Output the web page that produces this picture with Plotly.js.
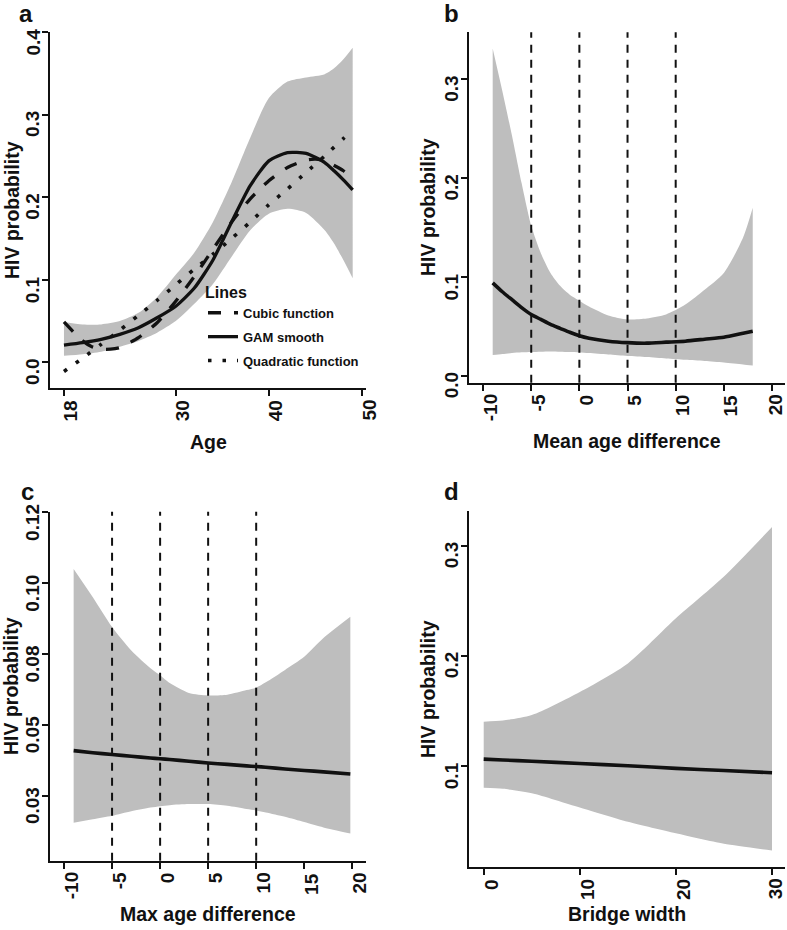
<!DOCTYPE html>
<html>
<head>
<meta charset="utf-8">
<script src="https://cdn.plot.ly/plotly-3.0.1.min.js"></script>
<style>html,body{margin:0;padding:0;background:#fff;}</style>
</head>
<body>
<div id="chart" style="width:787px;height:930px;"></div>
<script>
// ---------- Panel a: HIV probability by Age ----------
const ageX      = [18, 20, 22, 24, 26, 28, 30, 32, 34, 36, 38, 40, 42, 44, 46, 47, 48, 49];
const ageLower  = [0.008, 0.010, 0.013, 0.019, 0.026, 0.036, 0.050, 0.071, 0.095, 0.128, 0.160, 0.180, 0.186, 0.181, 0.160, 0.144, 0.124, 0.102];
const ageUpper  = [0.049, 0.046, 0.046, 0.050, 0.060, 0.079, 0.106, 0.133, 0.170, 0.218, 0.272, 0.320, 0.340, 0.345, 0.349, 0.356, 0.367, 0.381];
const ageGam    = [0.021, 0.024, 0.028, 0.034, 0.042, 0.054, 0.068, 0.090, 0.124, 0.170, 0.214, 0.244, 0.254, 0.253, 0.242, 0.232, 0.221, 0.209];
const cubicX    = [18, 19, 20, 21, 22, 23, 24, 26, 28, 30, 32, 34, 36, 38, 40, 42, 44, 45, 46, 48, 49];
const cubicY    = [0.049, 0.037, 0.026, 0.019, 0.016, 0.016, 0.018, 0.030, 0.048, 0.074, 0.104, 0.137, 0.170, 0.198, 0.220, 0.236, 0.245, 0.246, 0.244, 0.232, 0.222];
const quadX     = [18, 20, 22, 24, 26, 28, 30, 32, 34, 36, 38, 40, 42, 44, 46, 48, 49];
const quadY     = [-0.011, 0.005, 0.022, 0.039, 0.057, 0.075, 0.094, 0.113, 0.131, 0.150, 0.170, 0.191, 0.210, 0.230, 0.250, 0.271, 0.281];
const ageTicks  = [18, 30, 40, 50];
const probTicksA = [0.0, 0.1, 0.2, 0.3, 0.4];

// ---------- Panel b: Mean age difference ----------
const meanX     = [-9, -8, -7, -6, -5, -4, -3, -2, -1, 0, 1, 3, 5, 7, 9, 11, 13, 15, 17, 18];
const meanLower = [0.021, 0.022, 0.023, 0.0237, 0.024, 0.0243, 0.0245, 0.0243, 0.024, 0.0236, 0.023, 0.0215, 0.020, 0.019, 0.0175, 0.0162, 0.015, 0.0135, 0.0115, 0.0104];
const meanUpper = [0.331, 0.288, 0.243, 0.195, 0.152, 0.124, 0.104, 0.091, 0.082, 0.076, 0.070, 0.061, 0.057, 0.058, 0.062, 0.072, 0.087, 0.104, 0.140, 0.170];
const meanFit   = [0.094, 0.085, 0.077, 0.069, 0.062, 0.057, 0.052, 0.048, 0.044, 0.0405, 0.038, 0.035, 0.0335, 0.033, 0.034, 0.035, 0.037, 0.039, 0.043, 0.045];
const diffTicks = [-10, -5, 0, 5, 10, 15, 20];
const cutPoints = [-5, 0, 5, 10];
const probTicksB = [0.0, 0.1, 0.2, 0.3];

// ---------- Panel c: Max age difference (axis positions, labelled as printed) ----------
const maxX      = [-9, -7, -5, -3, -1, 0, 1, 3, 5, 7, 9, 10, 11, 13, 15, 17, 19.8];
const maxLower  = [0.0323, 0.0333, 0.0343, 0.0356, 0.0366, 0.0370, 0.0373, 0.0376, 0.0376, 0.0371, 0.0362, 0.0358, 0.0352, 0.0340, 0.0325, 0.0310, 0.0293];
const maxUpper  = [0.104, 0.096, 0.0876, 0.081, 0.076, 0.074, 0.0718, 0.069, 0.0683, 0.0685, 0.0698, 0.0705, 0.072, 0.0755, 0.0792, 0.0845, 0.0905];
const maxFit    = [0.0527, 0.0521, 0.0516, 0.0511, 0.0506, 0.0504, 0.0502, 0.0497, 0.0492, 0.0488, 0.0484, 0.0482, 0.0480, 0.0475, 0.0471, 0.0467, 0.0461];
const probTickPosC  = [0.04, 0.06, 0.08, 0.10, 0.12];
const probTickTextC = ['0.03', '0.05', '0.08', '0.10', '0.12'];

// ---------- Panel d: Bridge width ----------
const bridgeX     = [0, 2, 5, 10, 15, 20, 25, 30];
const bridgeLower = [0.080, 0.079, 0.075, 0.062, 0.049, 0.0385, 0.029, 0.023];
const bridgeUpper = [0.140, 0.141, 0.146, 0.167, 0.193, 0.234, 0.272, 0.317];
const bridgeFit   = [0.106, 0.1052, 0.104, 0.102, 0.100, 0.0976, 0.0956, 0.0936];
const bridgeTicks = [0, 10, 20, 30];
const probTicksD  = [0.1, 0.2, 0.3];

// ---------- styling ----------
const W = 787, H = 930;
const FONT = 'Liberation Sans, Arial, Helvetica, sans-serif';
const INK = '#111111';
const BAND = '#bebebe';

function band(x, lo, hi, xa, ya) {
  return [
    {x: x, y: lo, xaxis: xa, yaxis: ya, type: 'scatter', mode: 'lines',
     line: {width: 0, color: BAND, shape: 'spline', smoothing: 0.7}, showlegend: false, hoverinfo: 'skip'},
    {x: x, y: hi, xaxis: xa, yaxis: ya, type: 'scatter', mode: 'lines',
     line: {width: 0, color: BAND, shape: 'spline', smoothing: 0.7}, fill: 'tonexty', fillcolor: BAND,
     showlegend: false, hoverinfo: 'skip'}
  ];
}
function fit(x, y, xa, ya) {
  return {x: x, y: y, xaxis: xa, yaxis: ya, type: 'scatter', mode: 'lines',
          line: {color: INK, width: 3.6, shape: 'spline', smoothing: 0.6},
          showlegend: false, hoverinfo: 'skip'};
}

const data = [].concat(
  band(ageX, ageLower, ageUpper, 'x', 'y'),
  [
    {x: cubicX, y: cubicY, name: 'Cubic function', legendgroup: 'g1', type: 'scatter', mode: 'lines',
     line: {color: INK, width: 3.3, dash: '13px,13px', shape: 'spline', smoothing: 0.6}},
    {x: ageX, y: ageGam, name: 'GAM smooth', legendgroup: 'g2', type: 'scatter', mode: 'lines',
     line: {color: INK, width: 3.3, shape: 'spline', smoothing: 0.6}},
    {x: quadX, y: quadY, name: 'Quadratic function', legendgroup: 'g3', type: 'scatter', mode: 'lines',
     line: {color: INK, width: 3.6, dash: '3.5px,11px', shape: 'spline', smoothing: 0.6}}
  ],
  band(meanX, meanLower, meanUpper, 'x2', 'y2'),
  [fit(meanX, meanFit, 'x2', 'y2')],
  band(maxX, maxLower, maxUpper, 'x3', 'y3'),
  [fit(maxX, maxFit, 'x3', 'y3')],
  band(bridgeX, bridgeLower, bridgeUpper, 'x4', 'y4'),
  [fit(bridgeX, bridgeFit, 'x4', 'y4')]
);

const tickFont = {family: FONT, size: 19, color: INK, weight: 'bold'};
const titleFont = {family: FONT, size: 19.5, color: INK, weight: 'bold'};

function xAxis(domain, range, ticks, anchor) {
  return {domain: domain, range: range, anchor: anchor, tickmode: 'array', tickvals: ticks,
          ticks: 'outside', ticklen: 6, tickwidth: 2, tickcolor: INK, showticklabels: false,
          showline: true, linewidth: 2, linecolor: INK, mirror: false,
          showgrid: false, zeroline: false, automargin: false};
}
function yAxis(domain, range, ticks, anchor) {
  return {domain: domain, range: range, anchor: anchor, tickmode: 'array', tickvals: ticks,
          ticks: 'outside', ticklen: 6, tickwidth: 2, tickcolor: INK, showticklabels: false,
          showline: true, linewidth: 2, linecolor: INK, mirror: false,
          showgrid: false, zeroline: false, automargin: false};
}
const dxL = [50 / W, 366 / W], dxR = [469 / W, 785 / W];
function dy(top, bottom) { return [1 - bottom / H, 1 - top / H]; }

// rotated tick labels (reading bottom-to-top), placed from the tick arrays
function xTickLabels(k, vals, atRightEdge) {
  return vals.map(function (v, i) {
    const last = atRightEdge && i === vals.length - 1;
    return {text: String(v), xref: 'x' + k, x: v, xanchor: 'center', xshift: last ? 3 : 7,
            yref: 'y' + k + ' domain', y: 0, yanchor: 'top', yshift: -11,
            textangle: -90, showarrow: false, font: tickFont, borderpad: 0};
  });
}
function yTickLabels(k, vals, texts) {
  return vals.map(function (v, i) {
    return {text: texts ? texts[i] : v.toFixed(1), xref: 'x' + k + ' domain', x: 0, xanchor: 'center', xshift: -17.5,
            yref: 'y' + k, y: v, yanchor: 'middle', yshift: -10,
            textangle: -90, showarrow: false, font: tickFont, borderpad: 0};
  });
}

const shapes = [];
cutPoints.forEach(function (c) {
  ['2', '3'].forEach(function (k) {
    shapes.push({type: 'line', xref: 'x' + k, yref: 'y' + k + ' domain', x0: c, x1: c, y0: 0, y1: 1,
                 line: {color: INK, width: 2, dash: '8px,7px'}, layer: 'above'});
  });
});

function label(txt, px, pyMid) {
  return {text: txt, xref: 'paper', yref: 'paper', x: px / W, y: 1 - pyMid / H,
          xanchor: 'left', yanchor: 'middle', showarrow: false,
          font: {family: FONT, size: 24, color: INK, weight: 'bold'}};
}
function xTitle(txt, pxMid, pyMid) {
  return {text: txt, xref: 'paper', yref: 'paper', x: pxMid / W, y: 1 - pyMid / H,
          xanchor: 'center', yanchor: 'middle', showarrow: false, font: titleFont};
}
function yTitle(txt, pxMid, pyMid) {
  return {text: txt, xref: 'paper', yref: 'paper', x: pxMid / W, y: 1 - pyMid / H, textangle: -90,
          xanchor: 'center', yanchor: 'middle', showarrow: false, font: titleFont};
}

const annotations = [].concat(
  [
    label('a', 17, 14), label('b', 442, 14), label('c', 19, 491), label('d', 442, 491),
    xTitle('Age', 208, 442), xTitle('Mean age difference', 627, 441),
    xTitle('Max age difference', 208, 914), xTitle('Bridge width', 627, 914),
    yTitle('HIV probability', 12, 210), yTitle('HIV probability', 428, 207),
    yTitle('HIV probability', 11, 686), yTitle('HIV probability', 428, 689)
  ],
  xTickLabels('', ageTicks, false), yTickLabels('', probTicksA),
  xTickLabels('2', diffTicks, true), yTickLabels('2', probTicksB),
  xTickLabels('3', diffTicks, false), yTickLabels('3', probTickPosC, probTickTextC),
  xTickLabels('4', bridgeTicks, true), yTickLabels('4', probTicksD)
);

const layout = {
  width: W, height: H,
  margin: {l: 0, r: 0, t: 0, b: 0, autoexpand: false},
  paper_bgcolor: '#ffffff', plot_bgcolor: 'rgba(0,0,0,0)',
  font: {family: FONT, color: INK, weight: 'bold'},
  xaxis:  xAxis(dxL, [16.5, 50.43], ageTicks, 'y'),
  yaxis:  yAxis(dy(32, 388), [-0.031, 0.40], probTicksA, 'x'),
  xaxis2: xAxis(dxR, [-11.46, 21.35], diffTicks, 'y2'),
  yaxis2: yAxis(dy(32.3, 382.7), [-0.007, 0.3475], probTicksB, 'x2'),
  xaxis3: xAxis(dxL, [-11.46, 21.43], diffTicks, 'y3'),
  yaxis3: yAxis(dy(511.7, 860.7), [0.0216, 0.1202], probTickPosC, 'x3'),
  xaxis4: xAxis(dxR, [-1.53, 31.35], bridgeTicks, 'y4'),
  yaxis4: yAxis(dy(511, 866.7), [0.0082, 0.3315], probTicksD, 'x4'),
  shapes: shapes,
  annotations: annotations,
  showlegend: true,
  legend: {x: 203 / W, y: 1 - 277 / H, xanchor: 'left', yanchor: 'top',
           bgcolor: 'rgba(0,0,0,0)', borderwidth: 0, traceorder: 'grouped', tracegroupgap: 4,
           font: {family: FONT, size: 13, color: INK, weight: 'bold'},
           title: {text: 'Lines', font: {family: FONT, size: 16, color: INK, weight: 'bold'}},
           itemwidth: 30}
};

Plotly.newPlot('chart', data, layout, {staticPlot: true, displayModeBar: false});
</script>
</body>
</html>
